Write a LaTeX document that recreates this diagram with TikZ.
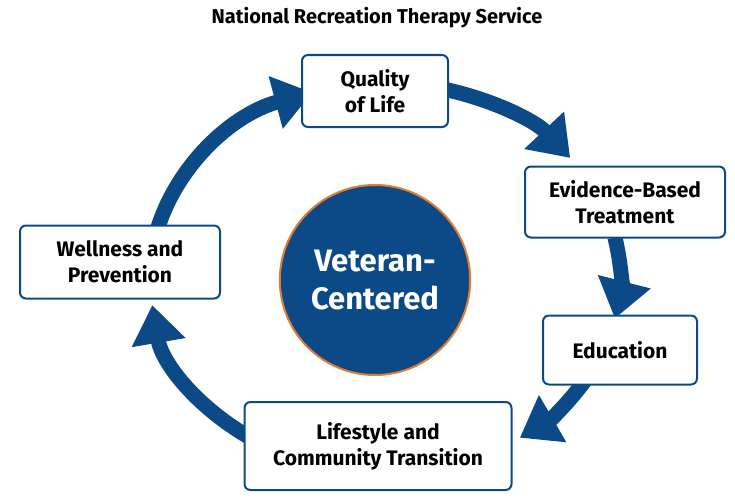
\documentclass[tikz,border=0pt]{standalone}
\usepackage{fontspec}
\setmainfont{Fira Sans}
\usetikzlibrary{arrows.meta,shapes.geometric}
\definecolor{vablue}{HTML}{0B4A86}
\definecolor{vaorange}{HTML}{E07B39}
\tikzset{
  stage/.style={draw=vablue,line width=2pt,fill=white,rounded corners=6pt,
    align=center,font=\bfseries\fontsize{21}{26}\selectfont,inner sep=0pt},
  flow/.style={draw=vablue,line width=15pt,
    -{Triangle[width=52pt,length=38pt]}}
}
\begin{document}
\begin{tikzpicture}[x=1pt,y=-1pt]
\useasboundingbox (0,0) rectangle (735,503);
\coordinate (c) at (385,278);
% cycle of arrows
\draw[flow] (c) ++(188:235 and 195) arc[start angle=188,end angle=252,x radius=235,y radius=195];
\draw[flow] (c) ++(280:235 and 195) arc[start angle=280,end angle=322,x radius=235,y radius=195];
\draw[flow] (c) ++(-12:235 and 195) arc[start angle=-12,end angle=12,x radius=235,y radius=195];
\draw[flow] (c) ++(28:235 and 195) arc[start angle=28,end angle=55,x radius=235,y radius=195];
\draw[flow] (c) ++(118:235 and 195) arc[start angle=118,end angle=172,x radius=235,y radius=195];
% centre
\node[draw=vaorange,line width=2pt,fill=vablue,ellipse,minimum width=160pt,minimum height=190pt,
  text=white,align=center,font=\bfseries\fontsize{31}{38}\selectfont] (vet) at (375,280) {Veteran-\\Centered};
% stages
\node[stage,minimum width=146pt,minimum height=72pt] (qol) at (375,91) {Quality\\of Life};
\node[stage,minimum width=200pt,minimum height=71pt] (ebt) at (625,202) {Evidence-Based\\Treatment};
\node[stage,minimum width=154pt,minimum height=69pt] (edu) at (620,350) {Education};
\node[stage,minimum width=267pt,minimum height=88pt] (life) at (378,446) {Lifestyle and\\Community Transition};
\node[stage,minimum width=200pt,minimum height=73pt] (well) at (120,262) {Wellness and\\Prevention};
\node[font=\bfseries\fontsize{20}{24}\selectfont] (title) at (377,18) {National Recreation Therapy Service};
\end{tikzpicture}
\end{document}
